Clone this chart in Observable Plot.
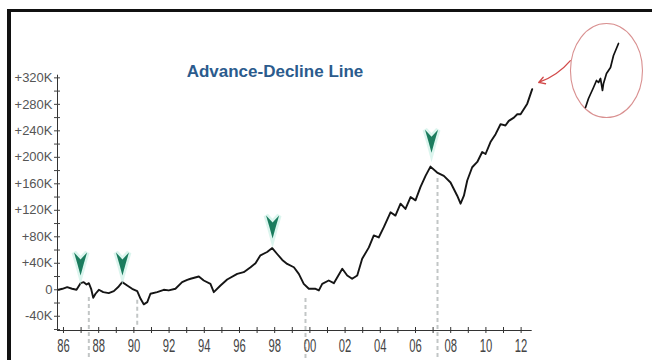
<!DOCTYPE html>
<html><head><meta charset="utf-8">
<script src="https://cdn.jsdelivr.net/npm/d3@7"></script>
<script src="https://cdn.jsdelivr.net/npm/@observablehq/plot@0.6"></script>
<style>
html,body{margin:0;padding:0;background:#fff;}
#wrap{position:relative;width:652px;height:360px;overflow:hidden;font-family:"Liberation Sans",Arial,sans-serif;}
#chart svg{display:block}
#inset{position:absolute;left:585px;top:43px;}
#inset svg{overflow:visible}
#title{position:absolute;left:160px;width:230px;top:62px;text-align:center;font:bold 17px "Liberation Sans",Arial,sans-serif;color:#2b5b8d;}
#frame{position:absolute;left:7px;top:9px;right:0;bottom:0;border-top:3px solid #111;border-left:4px solid #111;pointer-events:none;}
</style></head>
<body><div id="wrap"><div id="chart"></div><div id="inset"></div><div id="title">Advance-Decline Line</div><div id="frame"></div></div>
<script>
// Advance-Decline line (thousands)
const adYears = [1985.72,1985.94,1986.21,1986.49,1986.74,1986.97,1987.15,1987.31,1987.44,1987.57,
1987.69,1987.82,1988.01,1988.26,1988.57,1988.86,1989.14,1989.34,1989.62,1989.90,
1990.19,1990.38,1990.56,1990.76,1990.94,1991.32,1991.70,1991.98,1992.36,1992.74,
1993.03,1993.22,1993.69,1993.97,1994.35,1994.54,1994.92,1995.30,1995.87,1996.24,
1996.63,1996.91,1997.19,1997.57,1997.86,1998.14,1998.43,1998.71,1999.09,1999.37,
1999.65,1999.94,2000.32,2000.51,2000.70,2001.07,2001.36,2001.84,2002.12,2002.40,
2002.69,2002.97,2003.35,2003.63,2003.91,2004.20,2004.58,2004.86,2005.15,2005.43,
2005.72,2006.00,2006.28,2006.57,2006.85,2007.23,2007.61,2007.99,2008.37,2008.56,
2008.75,2008.94,2009.22,2009.51,2009.79,2009.98,2010.26,2010.55,2010.83,2011.11,
2011.30,2011.59,2011.78,2011.97,2012.35,2012.63];
const adValues = [0,1.5,3.9,1.5,0,10,11.5,8,10,1.5,
-12,-6,0,-3.6,-5,-2,5,11.5,6.5,1.5,
-2,-13.6,-22,-18.7,-6,-3.6,0,-1,1.5,11.5,
15,16.6,20,14,9,-3.6,6.5,15.5,24,26.6,
34,40,52,57,63,54,45,39,34,24,
9,1.5,1.5,-1,9,14,10,31.7,21.6,16.6,
21.6,46.8,64,82,79,94.5,117,112,130,122,
140,135,155,172,186,177,172,162,142,130,
142,165,185,193,208,205,223,235,250,248,
255,260,265,265,281,303];

// Axis ticks
const xTickYears = [1986,1988,1990,1992,1994,1996,1998,2000,2002,2004,2006,2008,2010,2012];
const xTickLabels = ["86","88","90","92","94","96","98","00","02","04","06","08","10","12"];
const xMinorYears = d3.range(1986, 2013, 1);
const yTickValues = [-40,0,40,80,120,160,200,240,280,320];
const yTickLabels = ["-40K","0","+40K","+80K","+120K","+160K","+200K","+240K","+280K","+320K"];
const yMinorTicks = d3.range(-60, 321, 20);

// A-D peaks (green markers: year, value at marker tip)
const peakYears = [1986.97, 1989.35, 1997.88, 2006.91];
const peakTipValues = [21.6, 21.6, 77.4, 207];

// Market tops (dashed lines)
const topYears = [1987.44, 1990.19, 1999.75, 2007.25];
const topStart = [-11.6, -16, -13, 168];
const topEnd = [-107, -57, -107, -107];

// Callout
const pointerFrom = [2014.8, 346];
const pointerTo = [2013.0, 313];
const circleCenter = [2016.85, 331];

// Magnified recent segment (inset)
const insetDays = [0,6,16,22,26,30,34,36,42,50,56,66];
const insetValues = [280,284.5,290,293.5,292.5,294.5,288.5,292,297,300,306,312];

const data = adYears.map((x, i) => ({year: x, value: adValues[i]}));
const peaks = peakYears.map((x, i) => ({year: x, value: peakTipValues[i]}));
const tops = topYears.map((x, i) => ({year: x, y1: topStart[i], y2: topEnd[i]}));
const inset = insetDays.map((d, i) => ({day: d, value: insetValues[i]}));

const arrowSym = {draw(ctx) {
  ctx.moveTo(0, 0); ctx.lineTo(-3, -11); ctx.lineTo(-6.5, -23); ctx.lineTo(0, -16);
  ctx.lineTo(6.5, -23); ctx.lineTo(3, -11); ctx.closePath();
}};
const ellipseSym = {draw(ctx) {
  const rx = 36, ry = 47, k = 0.5523;
  ctx.moveTo(rx, 0);
  ctx.bezierCurveTo(rx, ry * k, rx * k, ry, 0, ry);
  ctx.bezierCurveTo(-rx * k, ry, -rx, ry * k, -rx, 0);
  ctx.bezierCurveTo(-rx, -ry * k, -rx * k, -ry, 0, -ry);
  ctx.bezierCurveTo(rx * k, -ry, rx, -ry * k, rx, 0);
  ctx.closePath();
}};

const xMin = 1985.66, xMax = 2012.63, yMin = -61.5, yMax = 324;

const chart = Plot.plot({
  width: 652, height: 360,
  marginLeft: 57, marginRight: 120.3, marginTop: 74.7, marginBottom: 30,
  x: {domain: [xMin, xMax]},
  y: {domain: [yMin, yMax]},
  style: {background: "transparent", fontFamily: "'Liberation Sans', Arial, sans-serif"},
  marks: [
    Plot.ruleX(tops, {x: "year", y1: "y1", y2: "y2", stroke: "#c2c6c6", strokeWidth: 2, strokeDasharray: "4,3"}),
    Plot.ruleY([yMin], {stroke: "#333"}),
    Plot.ruleX([xMin], {stroke: "#333"}),
    Plot.axisX({ticks: xMinorYears, tickSize: 6, dy: -3, fill: "none", stroke: "#333", label: null}),
    Plot.axisX({ticks: xTickYears, tickSize: 0, tickPadding: 8, fontSize: 15, fill: "#444", label: null,
      tickFormat: d => xTickLabels[xTickYears.indexOf(d)]}),
    Plot.axisY({ticks: yMinorTicks, tickSize: 6, dx: 3, fill: "none", stroke: "#444", label: null}),
    Plot.axisY({ticks: yTickValues, tickSize: 0, tickPadding: 5, fontSize: 13, fill: "#555", label: null,
      tickFormat: d => yTickLabels[yTickValues.indexOf(d)]}),
    Plot.line(data, {x: "year", y: "value", stroke: "#151515", strokeWidth: 1.9, strokeLinejoin: "round"}),
    Plot.dot(peaks, {x: "year", y: "value", symbol: arrowSym, fill: "#c4eee2", stroke: "#c4eee2", strokeWidth: 5, strokeOpacity: 0.6}),
    Plot.dot(peaks, {x: "year", y: "value", symbol: arrowSym, fill: "#1b7c5e", stroke: "none"}),
    Plot.arrow([{x1: pointerFrom[0], y1: pointerFrom[1], x2: pointerTo[0], y2: pointerTo[1]}],
      {x1: "x1", y1: "y1", x2: "x2", y2: "y2", bend: 15, stroke: "#d24a4a", strokeWidth: 1.3, headLength: 8}),
    Plot.dot([{x: circleCenter[0], y: circleCenter[1]}], {x: "x", y: "y", symbol: ellipseSym, fill: "none", stroke: "#d99090", strokeWidth: 1.1})
  ]
});
document.getElementById("chart").appendChild(chart);
d3.select(chart).selectAll('[aria-label="x-axis tick label"] text').each(function() {
  const t = this.getAttribute("transform") || "";
  this.setAttribute("transform", t + " scale(0.75,1.25)");
});

const insetChart = Plot.plot({
  width: 33, height: 64, margin: 0,
  x: {domain: [0, 66], axis: null},
  y: {domain: [280, 312], axis: null},
  style: {background: "transparent", overflow: "visible"},
  marks: [Plot.line(inset, {x: "day", y: "value", stroke: "#111", strokeWidth: 1.7})]
});
document.getElementById("inset").appendChild(insetChart);
</script>
</body></html>
